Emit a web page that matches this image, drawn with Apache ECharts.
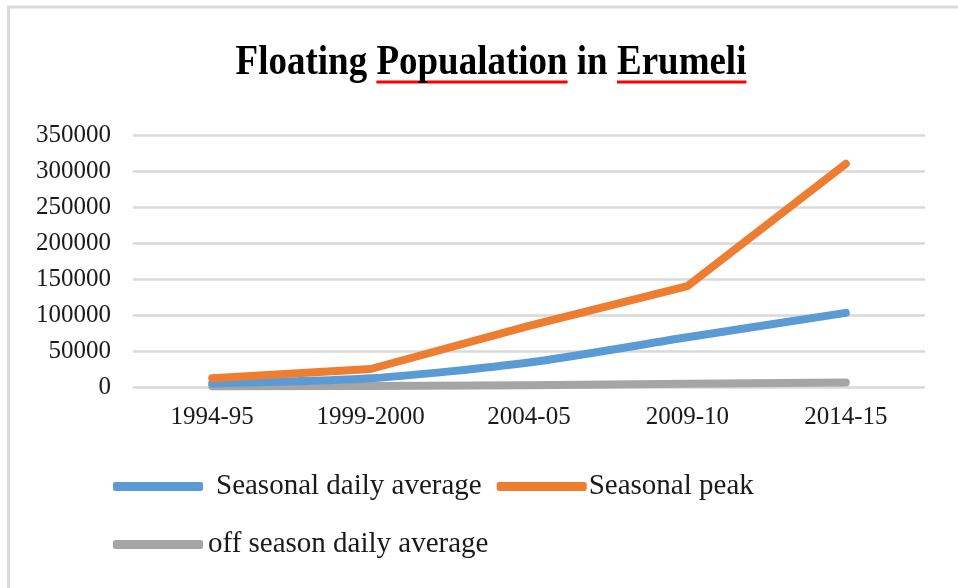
<!DOCTYPE html>
<html>
<head>
<meta charset="utf-8">
<script src="https://cdn.jsdelivr.net/npm/echarts@6/dist/echarts.min.js"></script>
<style>
html,body{margin:0;padding:0;background:#fff;}
#c{width:958px;height:588px;}
</style>
</head>
<body>
<div id="c"></div>
<script>
const categories = ['1994-95', '1999-2000', '2004-05', '2009-10', '2014-15'];
const seasonalDailyAverage = [5000, 12000, 34000, 69000, 103000];
const seasonalPeak = [12000, 25000, 85000, 140000, 310000];
const offSeasonDailyAverage = [1000, 1500, 2500, 4600, 6100];
const yTicks = { min: 0, max: 350000, interval: 50000 };

const titleParts = ['Floating ', 'Popualation', ' in ', 'Erumeli'];
const SERIF = '"Liberation Serif", "Times New Roman", serif';
const TITLE_SIZE = 37;
const TITLE_CENTER = 491;

const ctx = document.createElement('canvas').getContext('2d');
ctx.font = 'bold ' + TITLE_SIZE + 'px ' + SERIF;
const widths = titleParts.map(p => ctx.measureText(p).width);
const totalW = widths.reduce((a, b) => a + b, 0);
const titleLeft = TITLE_CENTER - totalW / 2;
const underlines = [];
let acc = titleLeft;
titleParts.forEach((p, i) => {
  if (i === 1 || i === 3) {
    underlines.push({
      type: 'rect',
      shape: { x: acc, y: 80.5, width: widths[i], height: 3 },
      style: { fill: '#ff0000' },
      silent: true
    });
  }
  acc += widths[i];
});

const chart = echarts.init(document.getElementById('c'), null, { renderer: 'canvas' });
const textColor = '#1a1a1a';
const LEG_SIZE = 29;

chart.setOption({
  animation: false,
  backgroundColor: '#ffffff',
  graphic: [
    {
      type: 'rect',
      shape: { x: 8.5, y: 7, width: 1200, height: 1000 },
      style: { fill: 'none', stroke: '#d9d9d9', lineWidth: 3 },
      silent: true
    },
    {
      type: 'text',
      x: titleLeft,
      y: 84,
      scaleY: 1.12,
      silent: true,
      z: 10,
      style: {
        text: titleParts.join(''),
        x: 0,
        y: 0,
        font: 'bold ' + TITLE_SIZE + 'px ' + SERIF,
        fill: '#000',
        textAlign: 'left',
        textVerticalAlign: 'bottom',
        verticalAlign: 'bottom'
      }
    }
  ].concat(underlines),
  legend: [
    {
      left: 113,
      top: 472,
      padding: 0,
      icon: 'roundRect',
      itemWidth: 90,
      itemHeight: 9,
      itemGap: 15,
      selectedMode: false,
      textStyle: { fontFamily: SERIF, fontSize: LEG_SIZE, color: textColor },
      data: [
        { name: 'Seasonal daily average', textStyle: { padding: [0, 0, 0, 8] } },
        { name: 'Seasonal peak', textStyle: { padding: [0, 0, 0, -3] } }
      ]
    },
    {
      left: 113,
      top: 530,
      padding: 0,
      icon: 'roundRect',
      itemWidth: 90,
      itemHeight: 9,
      selectedMode: false,
      textStyle: { fontFamily: SERIF, fontSize: LEG_SIZE, color: textColor },
      data: [{ name: 'off season daily average', textStyle: { padding: [0, 0, 0, 0] } }]
    }
  ],
  grid: { left: 133, right: 33, top: 135, bottom: 201, containLabel: false },
  xAxis: {
    type: 'category',
    data: categories,
    boundaryGap: true,
    axisLine: { show: false },
    axisTick: { show: false },
    axisLabel: { fontFamily: SERIF, fontSize: 25, color: textColor, margin: 18 }
  },
  yAxis: {
    type: 'value',
    min: yTicks.min,
    max: yTicks.max,
    interval: yTicks.interval,
    axisLine: { show: false },
    axisTick: { show: false },
    axisLabel: {
      fontFamily: SERIF, fontSize: 25, color: textColor, margin: 22,
      formatter: v => String(v)
    },
    splitLine: { lineStyle: { color: '#d9d9d9', width: 2.5 } }
  },
  series: [
    {
      name: 'off season daily average',
      type: 'line',
      data: offSeasonDailyAverage,
      symbol: 'none',
      z: 2,
      color: '#a5a5a5',
      lineStyle: { width: 8, color: '#a5a5a5', cap: 'round', join: 'round' }
    },
    {
      name: 'Seasonal daily average',
      type: 'line',
      data: seasonalDailyAverage,
      symbol: 'none',
      smooth: 0.25,
      z: 3,
      color: '#5b9bd5',
      lineStyle: { width: 8, color: '#5b9bd5', cap: 'round', join: 'round' }
    },
    {
      name: 'Seasonal peak',
      type: 'line',
      data: seasonalPeak,
      symbol: 'none',
      z: 4,
      color: '#ed7d31',
      lineStyle: { width: 8, color: '#ed7d31', cap: 'round', join: 'round' }
    }
  ]
});
</script>
</body>
</html>
